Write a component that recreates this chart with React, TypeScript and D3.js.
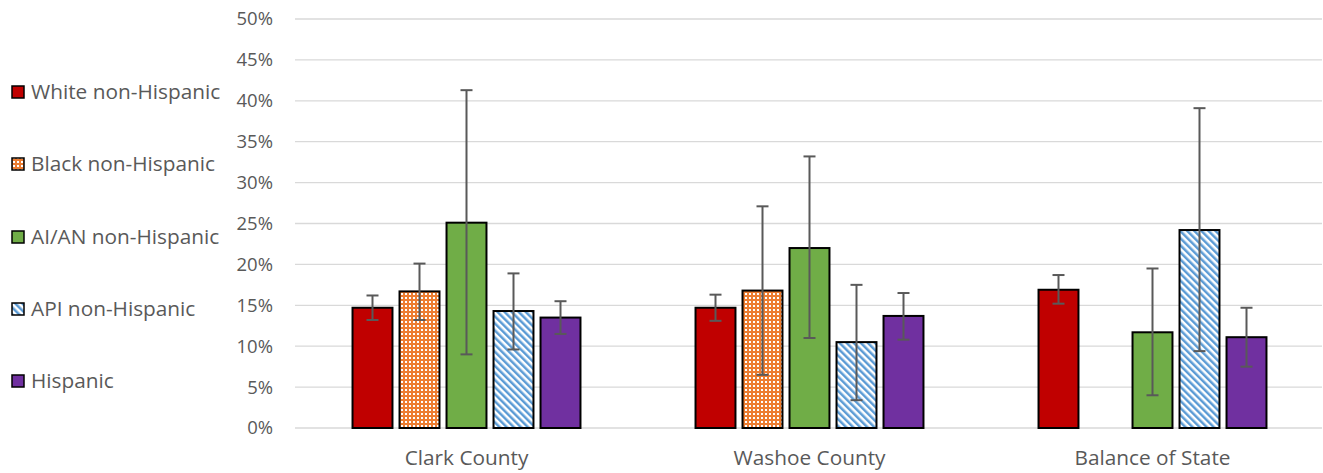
import React from "react";
import * as d3 from "d3";

const categories = ["Clark County", "Washoe County", "Balance of State"];
const seriesNames = ["White non-Hispanic", "Black non-Hispanic", "AI/AN non-Hispanic", "API non-Hispanic", "Hispanic"];
// values in %, null = missing
const values: (number | null)[][] = [
  [14.7, 14.7, 16.9],
  [16.7, 16.8, null],
  [25.1, 22.0, 11.7],
  [14.3, 10.5, 24.2],
  [13.5, 13.7, 11.1],
];
const errLow: (number | null)[][] = [
  [13.2, 13.1, 15.2],
  [13.2, 6.5, null],
  [9.0, 11.0, 4.0],
  [9.6, 3.4, 9.4],
  [11.5, 10.8, 7.5],
];
const errHigh: (number | null)[][] = [
  [16.2, 16.3, 18.7],
  [20.1, 27.1, null],
  [41.3, 33.2, 19.5],
  [18.9, 17.5, 39.1],
  [15.5, 16.5, 14.7],
];
const yTicks = [0, 5, 10, 15, 20, 25, 30, 35, 40, 45, 50];

const fills = ["#C00000", "url(#dotOrange)", "#70AD47", "url(#stripeBlue)", "#7030A0"];

const W = 1323;
const H = 473;
const FONT = "'Open Sans', 'Noto Sans', sans-serif";
const TEXT = "#595959";

export default function App() {
  const x0 = d3.scaleBand<string>().domain(categories).range([295, 1324]).paddingInner(0).paddingOuter(0);
  const y = d3.scaleLinear().domain([0, 50]).range([428, 19]);
  const groupW = 235;
  const x1 = d3
    .scaleBand<string>()
    .domain(seriesNames)
    .range([0, groupW])
    .paddingInner(0.15)
    .paddingOuter(0.075);
  const bw = x1.bandwidth();
  const legendY = [92, 164, 237, 309, 381];

  return (
    <svg width={W} height={H} style={{ position: "absolute", left: 0, top: 0, background: "#fff" }}>
      <defs>
        <pattern id="dotOrange" patternUnits="userSpaceOnUse" width={4} height={4}>
          <rect width={4} height={4} fill="#ED7D31" />
          <rect x={1} y={1} width={2} height={2} fill="#fff" />
        </pattern>
        <pattern id="stripeBlue" patternUnits="userSpaceOnUse" width={5} height={5} patternTransform="rotate(-45)">
          <rect width={5} height={5} fill="#fff" />
          <rect width={2.5} height={5} fill="#5B9BD5" />
        </pattern>
      </defs>
      <rect width={W} height={H} fill="#fff" />
      {yTicks.map((t) => (
        <g key={t}>
          <line x1={295} x2={1322} y1={y(t)} y2={y(t)} stroke="#D9D9D9" strokeWidth={1.3} />
          <text x={273} y={y(t)} dy="0.35em" textAnchor="end" fontFamily={FONT} fontSize={18.5} fill={TEXT}>
            {t}%
          </text>
        </g>
      ))}
      {categories.map((c, ci) => {
        const gx = x0(c)! + (x0.bandwidth() - groupW) / 2;
        return (
          <g key={c}>
            {seriesNames.map((s, si) => {
              const v = values[si][ci];
              if (v == null) return null;
              const bx = gx + x1(s)!;
              return (
                <rect
                  key={s}
                  x={bx}
                  y={y(v)}
                  width={bw}
                  height={y(0) - y(v)}
                  fill={fills[si]}
                  stroke="#000"
                  strokeWidth={2}
                />
              );
            })}
            {seriesNames.map((s, si) => {
              const lo = errLow[si][ci];
              const hi = errHigh[si][ci];
              if (lo == null || hi == null) return null;
              const cx = gx + x1(s)! + bw / 2;
              return (
                <g key={s} stroke="#595959" strokeWidth={2}>
                  <line x1={cx} x2={cx} y1={y(hi)} y2={y(lo)} />
                  <line x1={cx - 6} x2={cx + 6} y1={y(hi)} y2={y(hi)} />
                  <line x1={cx - 6} x2={cx + 6} y1={y(lo)} y2={y(lo)} />
                </g>
              );
            })}
            <text
              x={x0(c)! + x0.bandwidth() / 2}
              y={465}
              textAnchor="middle"
              fontFamily={FONT}
              fontSize={20.8}
              fill={TEXT}
            >
              {c}
            </text>
          </g>
        );
      })}
      {seriesNames.map((s, si) => (
        <g key={s}>
          <rect x={12} y={legendY[si] - 6} width={12} height={12} fill={fills[si]} stroke="#000" strokeWidth={1.5} />
          <text x={31} y={legendY[si]} dy="0.35em" fontFamily={FONT} fontSize={20.8} fill={TEXT}>
            {s}
          </text>
        </g>
      ))}
    </svg>
  );
}
